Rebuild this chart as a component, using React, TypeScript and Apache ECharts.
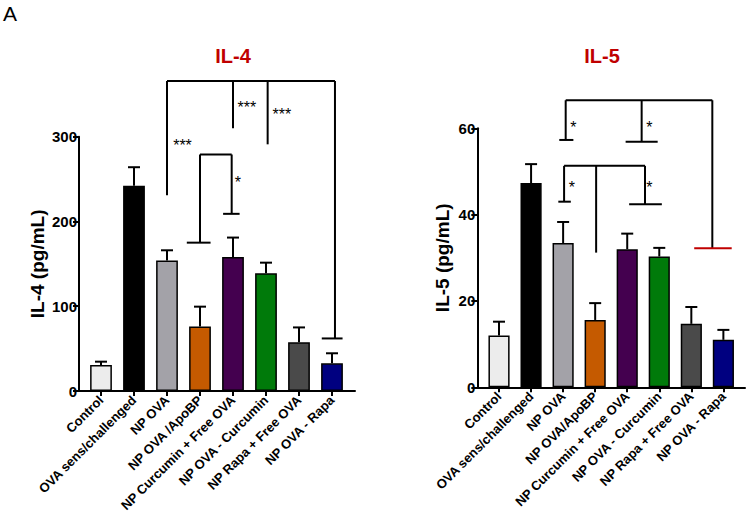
import React, { useEffect, useRef } from "react";
import * as echarts from "echarts";

const categories = [
  "Control",
  "OVA sens/challenged",
  "NP OVA",
  "NP OVA /ApoBP",
  "NP Curcumin + Free OVA",
  "NP OVA - Curcumin",
  "NP Rapa + Free OVA",
  "NP OVA - Rapa",
];
const categories5 = [
  "Control",
  "OVA sens/challenged",
  "NP OVA",
  "NP OVA/ApoBP",
  "NP Curcumin + Free OVA",
  "NP OVA - Curcumin",
  "NP Rapa + Free OVA",
  "NP OVA - Rapa",
];
const barColors = ["#ececec", "#000000", "#a3a2a8", "#c55a00", "#44004f", "#007a0a", "#4a4a4a", "#000080"];

// IL-4 means and upper error bar ends (pg/mL)
const il4Mean = [30.7, 242, 154, 76, 158, 139, 57.5, 32.6];
const il4Upper = [34.6, 264, 166, 99.5, 181, 151.4, 75, 44.5];
// IL-5 means and upper error bar ends (pg/mL)
const il5Mean = [12.0, 47.3, 33.4, 15.6, 32.0, 30.3, 14.7, 11.0];
const il5Upper = [15.2, 51.7, 38.3, 19.5, 35.6, 32.3, 18.6, 13.3];

// significance bracket segments: [x1, y1, x2, y2, red?] (x = category position)
const il4Brackets = [
  [2, 365.7, 7.09, 365.7, 0],
  [2, 365.7, 2, 231, 0],
  [4, 365.7, 4, 310, 0],
  [5.05, 365.7, 5.05, 291, 0],
  [7.09, 365.7, 7.09, 62, 0],
  [6.69, 62, 7.32, 62, 0],
  [3, 279, 3.96, 279, 0],
  [3, 279, 3, 175, 0],
  [2.6, 175, 3.32, 175, 0],
  [3.96, 279, 3.96, 209, 0],
  [3.7, 209, 4.2, 209, 0],
];
const il4Stars = [
  [2.47, 290],
  [4.42, 334],
  [5.48, 326],
  [4.15, 246],
];
const il4StarText = ["***", "***", "***", "*"];

const il5Brackets = [
  [2.08, 66.5, 6.655, 66.5, 0],
  [2.08, 66.5, 2.08, 57.3, 0],
  [1.88, 57.3, 2.32, 57.3, 0],
  [4.45, 66.5, 4.45, 56.9, 0],
  [3.95, 56.9, 4.95, 56.9, 0],
  [6.655, 66.5, 6.655, 32.2, 0],
  [6.09, 32.2, 7.26, 32.2, 1],
  [2.03, 51.3, 4.555, 51.3, 0],
  [2.03, 51.3, 2.03, 43, 0],
  [1.85, 43, 2.24, 43, 0],
  [3.03, 51.3, 3.03, 31.2, 0],
  [4.555, 51.3, 4.555, 42.4, 0],
  [4.06, 42.4, 5.08, 42.4, 0],
];
const il5Stars = [
  [2.32, 60.3],
  [4.69, 60.3],
  [2.27, 46.3],
  [4.69, 46.3],
];
const il5StarText = ["*", "*", "*", "*"];

const FONT = "'Liberation Sans', Arial, Helvetica, sans-serif";

function xPos(api: any, v: number) {
  const base = api.coord([0, 0])[0];
  const band = api.size([1, 0])[0];
  return base + v * band;
}

function bracketSeries(grid: number, segs: number[][]) {
  return {
    type: "custom",
    xAxisIndex: grid * 2,
    yAxisIndex: grid * 2,
    clip: false,
    silent: true,
    encode: { x: 0, y: 1 },
    data: segs.map((s) => [0, 0, ...s]),
    renderItem: (params: any, api: any) => {
      const x1 = xPos(api, api.value(2));
      const y1 = api.coord([0, api.value(3)])[1];
      const x2 = xPos(api, api.value(4));
      const y2 = api.coord([0, api.value(5)])[1];
      return {
        type: "line",
        shape: { x1, y1, x2, y2 },
        style: { stroke: api.value(6) ? "#c00000" : "#000", lineWidth: 2 },
      };
    },
    z: 5,
  };
}

function starSeries(grid: number, stars: number[][], texts: string[]) {
  return {
    type: "custom",
    xAxisIndex: grid * 2,
    yAxisIndex: grid * 2,
    clip: false,
    silent: true,
    encode: { x: 0, y: 1 },
    data: stars.map((s) => [0, 0, ...s]),
    renderItem: (params: any, api: any) => {
      const x = xPos(api, api.value(2));
      const y = api.coord([0, api.value(3)])[1];
      return {
        type: "text",
        x,
        y,
        style: {
          text: texts[params.dataIndex],
          fill: "#000",
          font: `16px ${FONT}`,
          align: "center",
          verticalAlign: "middle",
        },
      };
    },
    z: 6,
  };
}

function errorSeries(grid: number, mean: number[], upper: number[]) {
  return {
    type: "custom",
    xAxisIndex: grid * 2,
    yAxisIndex: grid * 2,
    clip: false,
    silent: true,
    encode: { x: 0, y: [1, 2] },
    data: mean.map((m, i) => [i, m, upper[i]]),
    renderItem: (params: any, api: any) => {
      const p1 = api.coord([api.value(0), api.value(1)]);
      const p2 = api.coord([api.value(0), api.value(2)]);
      return {
        type: "group",
        children: [
          { type: "line", shape: { x1: p1[0], y1: p1[1], x2: p2[0], y2: p2[1] }, style: { stroke: "#000", lineWidth: 2 } },
          { type: "line", shape: { x1: p2[0] - 6, y1: p2[1], x2: p2[0] + 6, y2: p2[1] }, style: { stroke: "#000", lineWidth: 2 } },
        ],
      };
    },
    z: 4,
  };
}

function barSeries(grid: number, mean: number[]) {
  return {
    type: "bar",
    xAxisIndex: grid * 2,
    yAxisIndex: grid * 2,
    barWidth: "66%",
    silent: true,
    data: mean.map((v, i) => ({
      value: v,
      itemStyle: { color: barColors[i], borderColor: "#000", borderWidth: 1.5 },
    })),
    z: 3,
  };
}

export default function App() {
  const ref = useRef<HTMLDivElement>(null);
  useEffect(() => {
    if (!ref.current) return;
    const chart = echarts.init(ref.current, undefined, { renderer: "svg" });

    const catAxis = (cats: string[], gridIndex: number) => ({
      type: "category",
      gridIndex,
      data: cats,
      axisLine: { show: false },
      axisTick: { show: true, alignWithLabel: true, length: 5, lineStyle: { color: "#000", width: 2 } },
      axisLabel: {
        rotate: 45,
        interval: 0,
        margin: 7,
        color: "#000",
        fontWeight: "bold",
        fontSize: 13,
        fontFamily: FONT,
      },
    });
    const hiddenVal = (gridIndex: number, max: number) => ({
      type: "value",
      gridIndex,
      min: 0,
      max,
      show: false,
    });
    const lineX = (gridIndex: number) => ({
      type: "value",
      gridIndex,
      min: 0,
      max: 1,
      axisLine: { show: true, lineStyle: { color: "#000", width: 2 } },
      axisTick: { show: false },
      axisLabel: { show: false },
      splitLine: { show: false },
    });
    const visY = (gridIndex: number, max: number, interval: number, name: string, nameGap: number) => ({
      type: "value",
      gridIndex,
      min: 0,
      max,
      interval,
      name,
      nameLocation: "middle",
      nameGap,
      nameTextStyle: { color: "#000", fontWeight: "bold", fontSize: 19, fontFamily: FONT },
      axisLine: { show: true, lineStyle: { color: "#000", width: 2 } },
      axisTick: { show: true, length: 6, lineStyle: { color: "#000", width: 2 } },
      axisLabel: { color: "#000", fontWeight: "bold", fontSize: 15, fontFamily: FONT, margin: 2 },
      splitLine: { show: false },
    });

    chart.setOption({
      animation: false,
      backgroundColor: "#fff",
      graphic: [
        { type: "text", left: 3, top: 3, style: { text: "A", font: `21px ${FONT}`, fill: "#000" } },
        {
          type: "text",
          x: 233,
          y: 56,
          style: { text: "IL-4", font: `bold 20px ${FONT}`, fill: "#c00000", align: "center", verticalAlign: "middle" },
        },
        {
          type: "text",
          x: 602,
          y: 56,
          style: { text: "IL-5", font: `bold 20px ${FONT}`, fill: "#c00000", align: "center", verticalAlign: "middle" },
        },
      ],
      grid: [
        { left: 84.5, width: 264, top: 136.7, height: 254.3 },
        { left: 79, width: 276, top: 136.7, height: 254.3 },
        { left: 483, width: 256.4, top: 128.3, height: 259 },
        { left: 477.3, width: 267.7, top: 128.3, height: 259 },
      ],
      xAxis: [catAxis(categories, 0), lineX(1), catAxis(categories5, 2), lineX(3)],
      yAxis: [
        hiddenVal(0, 300),
        visY(1, 300, 100, "IL-4 (pg/mL)", 32),
        hiddenVal(2, 60),
        visY(3, 60, 20, "IL-5 (pg/mL)", 25),
      ],
      series: [
        barSeries(0, il4Mean),
        errorSeries(0, il4Mean, il4Upper),
        bracketSeries(0, il4Brackets),
        starSeries(0, il4Stars, il4StarText),
        barSeries(1, il5Mean),
        errorSeries(1, il5Mean, il5Upper),
        bracketSeries(1, il5Brackets),
        starSeries(1, il5Stars, il5StarText),
      ],
    });
    return () => chart.dispose();
  }, []);
  return <div ref={ref} style={{ position: "fixed", left: 0, top: 0, width: 750, height: 516 }} />;
}
